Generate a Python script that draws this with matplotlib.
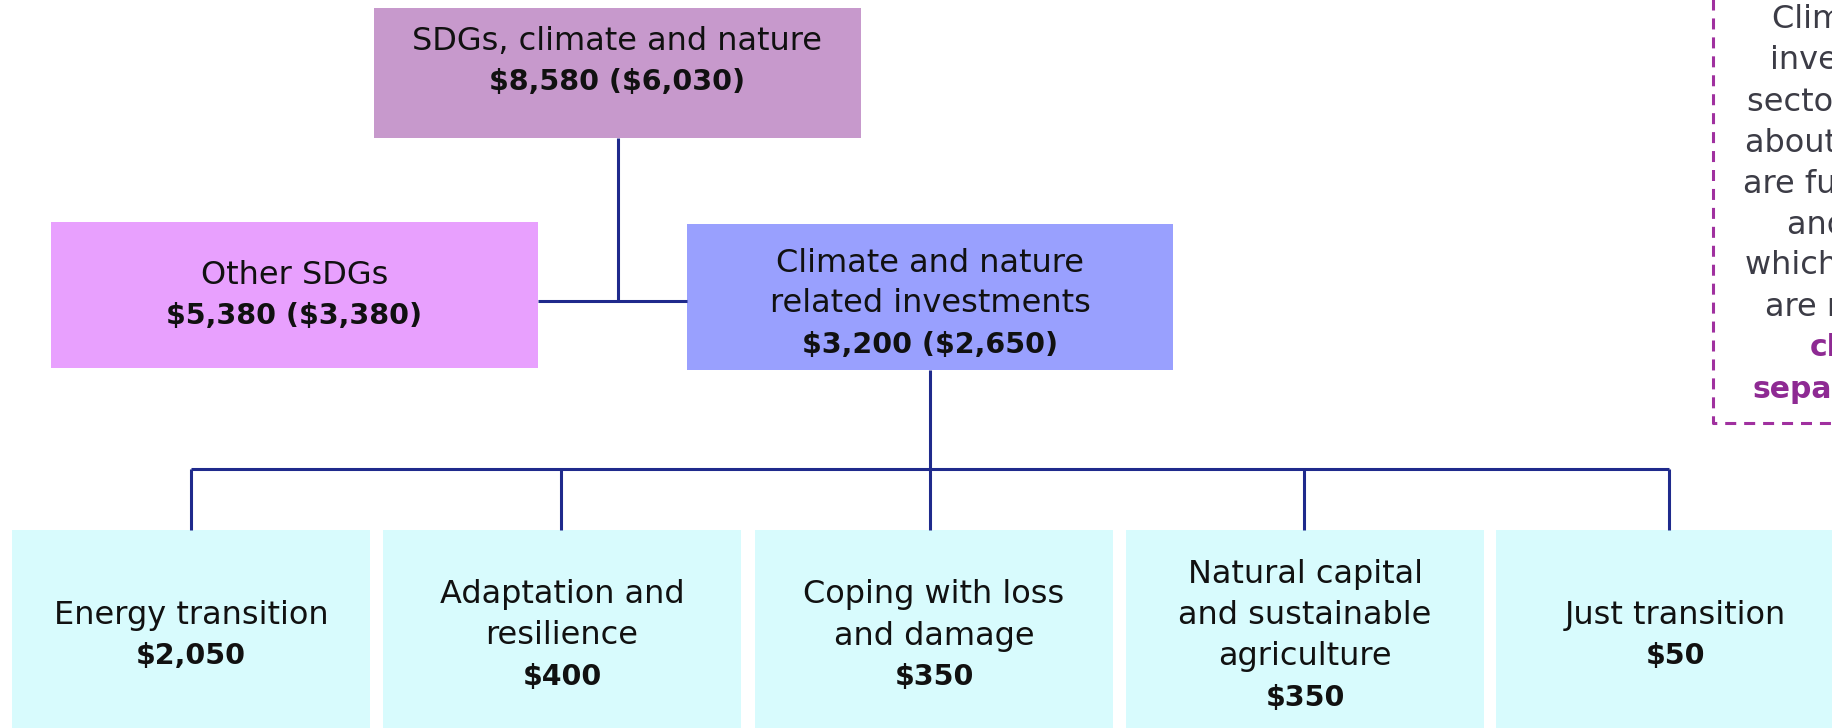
import matplotlib
matplotlib.use("Agg")
import matplotlib.pyplot as plt
from matplotlib.patches import Rectangle

# ---------------- data ----------------
top_label = ["SDGs, climate and nature"]
top_total = 8580
top_sub = 6030

mid_labels = [["Other SDGs"], ["Climate and nature", "related investments"]]
mid_totals = [5380, 3200]
mid_subs = [3380, 2650]

bottom_labels = [
    ["Energy transition"],
    ["Adaptation and", "resilience"],
    ["Coping with loss", "and damage"],
    ["Natural capital", "and sustainable", "agriculture"],
    ["Just transition"],
]
bottom_values = [2050, 400, 350, 350, 50]

note_lines = ["Climate and nature", "investments by other", "sectors, amounting to",
              "about half of the total,", "are funded by states", "and firms,",
              "which in this chart", "are not", "classified", "separately"]
note_bold = [False] * 8 + [True, True]

# ---------------- style ----------------
W, H = 1832, 728
FS = 23
FSB = 20.5
LINE = 41
TXT = "#111111"
NAVY = "#1F2A8C"
C_TOP = "#C799CC"
C_OTHER = "#E8A0FE"
C_CLIM = "#99A0FE"
C_BOT = "#D8FBFD"
C_DASH = "#A0309F"
C_PURP = "#8E2A93"
C_GREY = "#3C3C46"

fig = plt.figure(figsize=(W / 100, H / 100), dpi=100)
ax = fig.add_axes([0, 0, 1, 1])
ax.set_xlim(0, W)
ax.set_ylim(H, 0)
ax.axis("off")


def money(v):
    return f"${v:,}"


def box(x0, y0, x1, y1, color):
    ax.add_patch(Rectangle((x0, y0), x1 - x0, y1 - y0, facecolor=color,
                           edgecolor="none", zorder=1))


def lines_in(cx, cy, lines):
    n = len(lines)
    for i, (t, bold) in enumerate(lines):
        y = cy + (i - (n - 1) / 2) * LINE
        ax.text(cx, y, t, ha="center", va="center", color=TXT,
                fontsize=FSB if bold else FS,
                fontweight="bold" if bold else "normal",
                family="DejaVu Sans", zorder=3, parse_math=False)


def seg(xs, ys):
    ax.plot(xs, ys, color=NAVY, lw=2.2, solid_capstyle="butt", zorder=2)


# top box
tb = (374, 8, 861, 138)
box(*tb, C_TOP)
lines_in((tb[0] + tb[2]) / 2, 62,
         [(l, False) for l in top_label] + [(f"{money(top_total)} ({money(top_sub)})", True)])

# middle boxes
mid_boxes = [(51, 222, 538, 368), (687, 224, 1173, 370)]
mid_colors = [C_OTHER, C_CLIM]
mid_cy = [296, 304]
for b, c, labs, tot, sub, cy in zip(mid_boxes, mid_colors, mid_labels, mid_totals, mid_subs, mid_cy):
    box(*b, c)
    lines_in((b[0] + b[2]) / 2, cy,
             [(l, False) for l in labs] + [(f"{money(tot)} ({money(sub)})", True)])

# connectors top -> middle
top_cx = (tb[0] + tb[2]) / 2
hub_y = 301
seg([top_cx, top_cx], [tb[3], hub_y])
seg([mid_boxes[0][2], mid_boxes[1][0]], [hub_y, hub_y])

# bottom boxes
bx0 = [12, 383, 755, 1126, 1496]
bw = 358
btop, bbot = 530, 745
bus_y = 469
clim_cx = (mid_boxes[1][0] + mid_boxes[1][2]) / 2
seg([clim_cx, clim_cx], [mid_boxes[1][3], bus_y])
for x0, labs, v in zip(bx0, bottom_labels, bottom_values):
    box(x0, btop, x0 + bw, bbot, C_BOT)
    cx = x0 + bw / 2
    lines_in(cx, 636, [(l, False) for l in labs] + [(money(v), True)])
drops = [191, 561, 930, 1304, 1669]
seg([drops[0], drops[-1]], [bus_y, bus_y])
for d in drops:
    seg([d, d], [bus_y, btop])

# dashed note box (cut at figure edge, as in the reference)
ax.plot([1713, 1713, 2000], [-20, 423, 423], color=C_DASH, lw=2.2,
        linestyle=(0, (3.6, 2.6)), zorder=2, clip_on=True)
note_x = [1772, 1770, 1747, 1745, 1743, 1787, 1745, 1765, 1810, 1753]
for i, (t, b, x) in enumerate(zip(note_lines, note_bold, note_x)):
    ax.text(x, 20 + i * LINE, t, ha="left", va="center",
            color=C_PURP if b else C_GREY,
            fontsize=FSB + 1 if b else FS, fontweight="bold" if b else "normal",
            family="DejaVu Sans", zorder=3, parse_math=False)

fig.savefig("out.png", dpi=100)
